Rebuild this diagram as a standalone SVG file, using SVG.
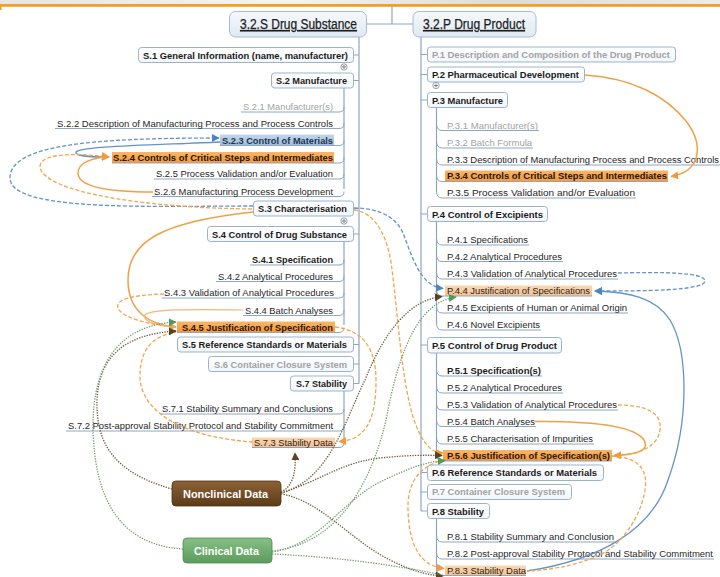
<svg xmlns="http://www.w3.org/2000/svg" width="720" height="577" viewBox="0 0 720 577">
  <defs>
    <linearGradient id="gTop" x1="0" y1="0" x2="1" y2="0">
      <stop offset="0" stop-color="#e6e6e6"/>
      <stop offset="0.4" stop-color="#f4f4f4"/>
      <stop offset="0.7" stop-color="#dcdcdc"/>
      <stop offset="1" stop-color="#ececec"/>
    </linearGradient>
    <linearGradient id="gRoot" x1="0" y1="0" x2="0" y2="1">
      <stop offset="0" stop-color="#f6f9fc"/>
      <stop offset="1" stop-color="#dfe8f2"/>
    </linearGradient>
    <linearGradient id="gBox" x1="0" y1="0" x2="0" y2="1">
      <stop offset="0" stop-color="#ffffff"/>
      <stop offset="1" stop-color="#f2f6fa"/>
    </linearGradient>
    <linearGradient id="gBlueHi" x1="0" y1="0" x2="0" y2="1">
      <stop offset="0" stop-color="#c4d7ea"/>
      <stop offset="1" stop-color="#9dbbd9"/>
    </linearGradient>
    <linearGradient id="gOrHi" x1="0" y1="0" x2="0" y2="1">
      <stop offset="0" stop-color="#f9b56a"/>
      <stop offset="1" stop-color="#f39a3c"/>
    </linearGradient>
    <linearGradient id="gPeach" x1="0" y1="0" x2="0" y2="1">
      <stop offset="0" stop-color="#fbd7b2"/>
      <stop offset="1" stop-color="#f8c08a"/>
    </linearGradient>
    <linearGradient id="gBrown" x1="0" y1="0" x2="0" y2="1">
      <stop offset="0" stop-color="#8c6236"/>
      <stop offset="1" stop-color="#5c3b19"/>
    </linearGradient>
    <linearGradient id="gGreen" x1="0" y1="0" x2="0" y2="1">
      <stop offset="0" stop-color="#86bf86"/>
      <stop offset="1" stop-color="#5c9c5c"/>
    </linearGradient>
    <marker id="aO" viewBox="0 0 10 10" refX="9" refY="5" markerWidth="8" markerHeight="8" markerUnits="userSpaceOnUse" orient="auto">
      <path d="M0,0 L10,5 L0,10 z" fill="#f29a3a"/>
    </marker>
    <marker id="aB" viewBox="0 0 10 10" refX="9" refY="5" markerWidth="8" markerHeight="8" markerUnits="userSpaceOnUse" orient="auto">
      <path d="M0,0 L10,5 L0,10 z" fill="#4f86c0"/>
    </marker>
    <marker id="aBr" viewBox="0 0 10 10" refX="9" refY="5" markerWidth="8" markerHeight="8" markerUnits="userSpaceOnUse" orient="auto">
      <path d="M0,0 L10,5 L0,10 z" fill="#5a4322"/>
    </marker>
    <marker id="aG" viewBox="0 0 10 10" refX="9" refY="5" markerWidth="8" markerHeight="8" markerUnits="userSpaceOnUse" orient="auto">
      <path d="M0,0 L10,5 L0,10 z" fill="#4f9a5c"/>
    </marker>
  </defs>
  <style>
    .root { fill: url(#gRoot); stroke: #a6bcd3; stroke-width: 1; }
    .rt { font-family: "Liberation Sans", Arial, sans-serif; font-size: 14px; fill: #1e1e1e; stroke: #1e1e1e; stroke-width: 0.25; text-decoration: underline; }
    .box { fill: url(#gBox); stroke: #9cb3ca; stroke-width: 1; }
    .bt { font-family: "Liberation Sans", Arial, sans-serif; font-size: 9.5px; font-weight: bold; fill: #1b1b1b; }
    .it { font-family: "Liberation Sans", Arial, sans-serif; font-size: 9.2px; fill: #262626; }
    .gray { fill: #a2a2a2; }
    .navy { fill: #1d3557; }
    .dk { fill: #2a1500; }
    .tree { fill: none; stroke: #8ea6bf; stroke-width: 1.2; }
    .ul { fill: none; stroke: #8ea6bf; stroke-width: 1; }
    .hiB { fill: url(#gBlueHi); }
    .hiO { fill: url(#gOrHi); }
    .hiP { fill: url(#gPeach); }
    .plus { fill: #ffffff; stroke: #7d8b99; stroke-width: 0.8; }
    .oS { fill: none; stroke: #f0a044; stroke-width: 1.5; }
    .oS2 { fill: none; stroke: #f3b679; stroke-width: 1.2; }
    .oD { fill: none; stroke: #f0a650; stroke-width: 1.3; stroke-dasharray: 4 2; }
    .bS { fill: none; stroke: #6494c6; stroke-width: 1.3; }
    .bD { fill: none; stroke: #6494c6; stroke-width: 1.3; stroke-dasharray: 4 2; }
    .brD { fill: none; stroke: #6a5536; stroke-width: 1.3; stroke-dasharray: 1.3 1.3; }
    .gD { fill: none; stroke: #6e9c70; stroke-width: 1.3; stroke-dasharray: 1.3 1.3; }
    .cat { font-family: "Liberation Sans", Arial, sans-serif; font-size: 10.5px; font-weight: bold; fill: #ffffff; }
  </style>

  <rect width="720" height="577" fill="#ffffff"/>
  <!-- header band -->
  <rect x="0" y="0" width="720" height="4.5" fill="url(#gTop)"/>
  <rect x="0" y="4" width="720" height="2.8" fill="#f2a024"/>
  <rect x="0" y="6" width="1.5" height="4" fill="#f2a024"/>

  <!-- tree structure lines -->
  <g id="tree-lines">
    <path class="tree" d="M367,24 H413 M392,6 V24"/>
    <path class="tree" d="M359,37 V383.5 M353,55 H359 M353,80.5 H359 M353,208.5 H359 M353,234 H359 M353,344.5 H359 M353,364 H359 M353,383.5 H359"/>
    <path class="tree" d="M344,88 V189 M344,241.5 V325 M344,391 V440"/>
    <path class="tree" d="M421,37 V511 M421,54.5 H427 M421,74.5 H427 M421,100 H427 M421,214 H427 M421,345 H427 M421,472.5 H427 M421,492 H427 M421,511 H427"/>
    <path class="tree" d="M436.5,107.5 V192 M436.5,221.5 V324 M436.5,353 V454 M436.5,518.5 V569"/>
  </g>

  <!-- root nodes -->
  <g id="drug-substance">
    <rect class="root" x="229.5" y="11.5" width="137" height="25.5" rx="6"/>
    <text class="rt" x="240" y="29" textLength="117" lengthAdjust="spacingAndGlyphs">3.2.S Drug Substance</text>
  </g>
  <g id="drug-product">
    <rect class="root" x="413" y="11.5" width="123" height="25.5" rx="6"/>
    <text class="rt" x="423" y="29" textLength="102" lengthAdjust="spacingAndGlyphs">3.2.P Drug Product</text>
  </g>

  <!-- Drug Substance sections -->
  <g id="s1"><rect class="box" x="138.5" y="47.5" width="215" height="15" rx="3"/><text class="bt" x="143" y="58.5" textLength="205" lengthAdjust="spacingAndGlyphs">S.1 General Information (name, manufacturer)</text></g>
  <g id="s1-plus"><circle class="plus" cx="344" cy="67" r="3.2"/><path d="M342,67 H346 M344,65 V69" stroke="#555" stroke-width="0.7"/></g>
  <g id="s2"><rect class="box" x="271.5" y="73" width="82" height="15" rx="3"/><text class="bt" x="276" y="84" textLength="71" lengthAdjust="spacingAndGlyphs">S.2 Manufacture</text></g>

  <g id="s21"><path class="ul" d="M241,112 H339 Q344,112 344,107"/><text class="it gray" x="243" y="110" textLength="90" lengthAdjust="spacingAndGlyphs">S.2.1 Manufacturer(s)</text></g>
  <g id="s22"><path class="ul" d="M55,128.5 H339 Q344,128.5 344,123.5"/><text class="it" x="57" y="126.5" textLength="276" lengthAdjust="spacingAndGlyphs">S.2.2  Description of Manufacturing Process and Process Controls</text></g>
  <g id="s23"><rect class="hiB" x="220" y="134.5" width="114" height="11"/><path class="ul" d="M220,145.5 H339 Q344,145.5 344,140.5"/><text class="bt navy" x="222" y="143.5" textLength="111" lengthAdjust="spacingAndGlyphs">S.2.3 Control of Materials</text></g>
  <g id="s24"><rect class="hiO" x="112" y="152" width="222" height="11"/><path class="ul" d="M112,163 H339 Q344,163 344,158"/><text class="bt dk" x="113" y="161" textLength="220" lengthAdjust="spacingAndGlyphs">S.2.4 Controls of Critical Steps and Intermediates</text></g>
  <g id="s25"><path class="ul" d="M154,179 H339 Q344,179 344,174"/><text class="it" x="156" y="177" textLength="177" lengthAdjust="spacingAndGlyphs">S.2.5 Process Validation and/or Evaluation</text></g>
  <g id="s26"><path class="ul" d="M152,196.5 H339 Q344,196.5 344,191.5"/><text class="it" x="154" y="194.5" textLength="179" lengthAdjust="spacingAndGlyphs">S.2.6 Manufacturing Process Development</text></g>

  <g id="s3"><rect class="box" x="253.5" y="201" width="100" height="15" rx="3"/><text class="bt" x="258" y="212" textLength="89" lengthAdjust="spacingAndGlyphs">S.3 Characterisation</text></g>
  <g id="s3-plus"><circle class="plus" cx="344" cy="221" r="3.2"/><path d="M342,221 H346 M344,219 V223" stroke="#555" stroke-width="0.7"/></g>
  <g id="s4"><rect class="box" x="207.5" y="226.5" width="146" height="15" rx="3"/><text class="bt" x="212" y="237.5" textLength="135" lengthAdjust="spacingAndGlyphs">S.4 Control of Drug Substance</text></g>

  <g id="s41"><path class="ul" d="M250,265 H339 Q344,265 344,260"/><text class="bt" x="252" y="263" textLength="81" lengthAdjust="spacingAndGlyphs">S.4.1  Specification</text></g>
  <g id="s42"><path class="ul" d="M216,281.5 H339 Q344,281.5 344,276.5"/><text class="it" x="218" y="279.5" textLength="115" lengthAdjust="spacingAndGlyphs">S.4.2 Analytical Procedures</text></g>
  <g id="s43"><path class="ul" d="M162,298 H339 Q344,298 344,293"/><text class="it" x="164" y="296" textLength="170" lengthAdjust="spacingAndGlyphs">S.4.3 Validation of Analytical Procedures</text></g>
  <g id="s44"><path class="ul" d="M243,315.5 H339 Q344,315.5 344,310.5"/><text class="it" x="245" y="313.5" textLength="88" lengthAdjust="spacingAndGlyphs">S.4.4 Batch Analyses</text></g>
  <g id="s45"><rect class="hiO" x="177" y="321.5" width="158" height="11"/><path class="ul" d="M177,332.5 H339 Q344,332.5 344,327.5"/><text class="bt dk" x="182" y="330.5" textLength="151" lengthAdjust="spacingAndGlyphs">S.4.5 Justification of Specification</text></g>

  <g id="s5"><rect class="box" x="177.5" y="337" width="176" height="15" rx="3"/><text class="bt" x="182" y="348" textLength="165" lengthAdjust="spacingAndGlyphs">S.5 Reference Standards or Materials</text></g>
  <g id="s6"><rect class="box" x="208.5" y="356.5" width="145" height="15" rx="3"/><text class="bt gray" x="214" y="367.5" textLength="133" lengthAdjust="spacingAndGlyphs">S.6 Container Closure System</text></g>
  <g id="s7"><rect class="box" x="290.5" y="376" width="63" height="15" rx="3"/><text class="bt" x="296" y="387" textLength="51" lengthAdjust="spacingAndGlyphs">S.7 Stability</text></g>

  <g id="s71"><path class="ul" d="M160,414 H339 Q344,414 344,409"/><text class="it" x="162" y="412" textLength="171" lengthAdjust="spacingAndGlyphs">S.7.1 Stability Summary and Conclusions</text></g>
  <g id="s72"><path class="ul" d="M66,431 H339 Q344,431 344,426"/><text class="it" x="68" y="429" textLength="265" lengthAdjust="spacingAndGlyphs">S.7.2 Post-approval Stability Protocol and Stability Commitment</text></g>
  <g id="s73"><rect class="hiP" x="252" y="437.5" width="83" height="10"/><path class="ul" d="M252,447.5 H339 Q344,447.5 344,442.5"/><text class="it" x="254" y="445.5" textLength="79" lengthAdjust="spacingAndGlyphs">S.7.3 Stability Data</text></g>

  <!-- Drug Product sections -->
  <g id="p1"><rect class="box" x="427.5" y="47" width="248" height="15" rx="3"/><text class="bt gray" x="432" y="58" textLength="238" lengthAdjust="spacingAndGlyphs">P.1 Description and Composition of the Drug Product</text></g>
  <g id="p2"><rect class="box" x="427.5" y="67" width="157" height="15" rx="3"/><text class="bt" x="432" y="77.5" textLength="147" lengthAdjust="spacingAndGlyphs">P.2 Pharmaceutical Development</text></g>
  <g id="p2-plus"><circle class="plus" cx="436" cy="85.5" r="3.2"/><path d="M434,85.5 H438 M436,83.5 V87.5" stroke="#555" stroke-width="0.7"/></g>
  <g id="p3"><rect class="box" x="427.5" y="92.5" width="80" height="15" rx="3"/><text class="bt" x="432" y="103.5" textLength="71" lengthAdjust="spacingAndGlyphs">P.3 Manufacture</text></g>

  <g id="p31"><path class="ul" d="M436.5,123.5 Q436.5,130.5 442,130.5 H539"/><text class="it gray" x="447" y="128.5" textLength="91" lengthAdjust="spacingAndGlyphs">P.3.1 Manufacturer(s)</text></g>
  <g id="p32"><path class="ul" d="M436.5,141 Q436.5,148 442,148 H533"/><text class="it gray" x="447" y="146" textLength="85" lengthAdjust="spacingAndGlyphs">P.3.2 Batch Formula</text></g>
  <g id="p33"><path class="ul" d="M436.5,158 Q436.5,165 442,165 H720"/><text class="it" x="447" y="163" textLength="272" lengthAdjust="spacingAndGlyphs">P.3.3 Description of Manufacturing Process and Process Controls</text></g>
  <g id="p34"><rect class="hiO" x="445" y="170.5" width="223" height="11"/><path class="ul" d="M436.5,175 Q436.5,181.5 442,181.5 H668"/><text class="bt dk" x="447" y="179" textLength="220" lengthAdjust="spacingAndGlyphs">P.3.4 Controls of Critical Steps and Intermediates</text></g>
  <g id="p35"><path class="ul" d="M436.5,191 Q436.5,198 442,198 H636"/><text class="it" x="447" y="196" textLength="188" lengthAdjust="spacingAndGlyphs">P.3.5 Process Validation and/or Evaluation</text></g>

  <g id="p4"><rect class="box" x="427.5" y="206.5" width="120" height="15" rx="3"/><text class="bt" x="432" y="218" textLength="111" lengthAdjust="spacingAndGlyphs">P.4 Control of Excipients</text></g>
  <g id="p41"><path class="ul" d="M436.5,238 Q436.5,245 442,245 H529"/><text class="it" x="447" y="243" textLength="81" lengthAdjust="spacingAndGlyphs">P.4.1 Specifications</text></g>
  <g id="p42"><path class="ul" d="M436.5,254.5 Q436.5,261.5 442,261.5 H563"/><text class="it" x="447" y="259.5" textLength="115" lengthAdjust="spacingAndGlyphs">P.4.2 Analytical Procedures</text></g>
  <g id="p43"><path class="ul" d="M436.5,272 Q436.5,279 442,279 H618"/><text class="it" x="447" y="277" textLength="170" lengthAdjust="spacingAndGlyphs">P.4.3 Validation of Analytical Procedures</text></g>
  <g id="p44"><rect class="hiP" x="445" y="285.5" width="147" height="10.5"/><path class="ul" d="M436.5,289 Q436.5,296 442,296 H592"/><text class="it" x="447" y="294" textLength="143" lengthAdjust="spacingAndGlyphs">P.4.4 Justification of Specifications</text></g>
  <g id="p45"><path class="ul" d="M436.5,306 Q436.5,313 442,313 H628"/><text class="it" x="447" y="311" textLength="180" lengthAdjust="spacingAndGlyphs">P.4.5 Excipients of Human or Animal Origin</text></g>
  <g id="p46"><path class="ul" d="M436.5,323 Q436.5,330 442,330 H541"/><text class="it" x="447" y="328" textLength="93" lengthAdjust="spacingAndGlyphs">P.4.6 Novel Excipients</text></g>

  <g id="p5"><rect class="box" x="427.5" y="337.5" width="134" height="15.5" rx="3"/><text class="bt" x="432" y="348.5" textLength="125" lengthAdjust="spacingAndGlyphs">P.5 Control of Drug Product</text></g>
  <g id="p51"><path class="ul" d="M436.5,369 Q436.5,376 442,376 H542"/><text class="bt" x="447" y="374" textLength="94" lengthAdjust="spacingAndGlyphs">P.5.1  Specification(s)</text></g>
  <g id="p52"><path class="ul" d="M436.5,386 Q436.5,393 442,393 H563"/><text class="it" x="447" y="391" textLength="115" lengthAdjust="spacingAndGlyphs">P.5.2 Analytical Procedures</text></g>
  <g id="p53"><path class="ul" d="M436.5,403 Q436.5,410 442,410 H618"/><text class="it" x="447" y="408" textLength="170" lengthAdjust="spacingAndGlyphs">P.5.3 Validation of Analytical Procedures</text></g>
  <g id="p54"><path class="ul" d="M436.5,419.5 Q436.5,426.5 442,426.5 H536"/><text class="it" x="447" y="424.5" textLength="88" lengthAdjust="spacingAndGlyphs">P.5.4 Batch Analyses</text></g>
  <g id="p55"><path class="ul" d="M436.5,437 Q436.5,444 442,444 H594"/><text class="it" x="447" y="442" textLength="146" lengthAdjust="spacingAndGlyphs">P.5.5 Characterisation of Impurities</text></g>
  <g id="p56"><rect class="hiO" x="443" y="450" width="169" height="11"/><path class="ul" d="M436.5,454 Q436.5,461 442,461 H612"/><text class="bt dk" x="447" y="458.5" textLength="163" lengthAdjust="spacingAndGlyphs">P.5.6 Justification of Specification(s)</text></g>

  <g id="p6"><rect class="box" x="427.5" y="465" width="176" height="15.5" rx="3"/><text class="bt" x="432" y="476" textLength="165" lengthAdjust="spacingAndGlyphs">P.6 Reference Standards or Materials</text></g>
  <g id="p7"><rect class="box" x="427.5" y="484.5" width="144" height="15" rx="3"/><text class="bt gray" x="432" y="495" textLength="133" lengthAdjust="spacingAndGlyphs">P.7 Container Closure System</text></g>
  <g id="p8"><rect class="box" x="427.5" y="503.5" width="62" height="15" rx="3"/><text class="bt" x="432" y="514.5" textLength="52" lengthAdjust="spacingAndGlyphs">P.8  Stability</text></g>
  <g id="p81"><path class="ul" d="M436.5,535 Q436.5,542 442,542 H615"/><text class="it" x="447" y="540" textLength="167" lengthAdjust="spacingAndGlyphs">P.8.1 Stability Summary and Conclusion</text></g>
  <g id="p82"><path class="ul" d="M436.5,552 Q436.5,559 442,559 H714"/><text class="it" x="447" y="557" textLength="266" lengthAdjust="spacingAndGlyphs">P.8.2 Post-approval Stability Protocol and Stability Commitment</text></g>
  <g id="p83"><rect class="hiP" x="445" y="565.5" width="81" height="10"/><path class="ul" d="M436.5,569 Q436.5,575.5 442,575.5 H526"/><text class="it" x="447" y="573.5" textLength="79" lengthAdjust="spacingAndGlyphs">P.8.3 Stability Data</text></g>

  <!-- data sources -->
  <g id="nonclinical-data">
    <rect x="172" y="481" width="109" height="25" rx="4" fill="url(#gBrown)" stroke="#4d3213" stroke-width="0.8"/>
    <text class="cat" x="183" y="498" textLength="85" lengthAdjust="spacingAndGlyphs">Nonclinical Data</text>
  </g>
  <g id="clinical-data">
    <rect x="183" y="538" width="89" height="25" rx="4" fill="url(#gGreen)" stroke="#4f8a50" stroke-width="0.8"/>
    <text class="cat" x="194" y="554.5" textLength="65" lengthAdjust="spacingAndGlyphs">Clinical Data</text>
  </g>

  <!-- cross references -->
  <g id="connectors">
    <!-- Drug Substance internal -->
    <path class="bD" d="M253,206 C150,206 10,212 10,178 C10,145 90,138 219,138" marker-end="url(#aB)"/>
    <path class="bS" d="M220,142 C160,145 72,146 76,153 C79,157 95,157 109,157"/>
    <path class="oD" d="M252,209 C160,208 60,196 42,172 C32,156 62,151 109,157" marker-end="url(#aO)"/>
    <path class="oS" d="M153,192 C105,192 78,186 78,173 C78,162 95,157 109,157" marker-end="url(#aO)"/>
    <path class="oS" d="M253,212 C160,222 128,242 128,280 C128,312 150,325 176,327" marker-end="url(#aO)"/>
    <path class="oS2" d="M243,310 C190,309 150,309 145,315 C142,322 160,326 176,327"/>
    <path class="oD" d="M164,294 C130,295 115,300 118,308 C122,318 150,325 176,327"/>
    <path class="oD" d="M335,327 C360,330 376,345 376,380 C376,420 366,440 339,441.5" marker-end="url(#aO)"/>
    <path class="oD" d="M253,442 C180,437 140,410 140,376 C140,350 152,336 176,332"/>

    <!-- Drug Substance to Drug Product -->
    <path class="bD" d="M354,208 C376,208 395,215 403,233 C412,256 420,286 443,288.5" marker-end="url(#aB)"/>
    <path class="oD" d="M354,210 C373,212 386,232 391,262 C398,312 401,380 414,420 C423,445 432,453 443,453" marker-end="url(#aO)"/>

    <!-- Drug Product internal -->
    <path class="oS" d="M585,75 C632,78 666,96 686,121 C705,146 700,172 671,176.5" marker-end="url(#aO)"/>
    <path class="bD" d="M618,273 C660,272 705,272 705,281 C705,291 640,291 595,291" marker-end="url(#aB)"/>
    <path class="bS" d="M527,571 C600,560 652,530 668,480 C690,420 688,350 670,320 C656,298 630,292 595,291" marker-end="url(#aB)"/>
    <path class="oD" d="M618,405 C650,405 662,415 660,430 C658,446 640,455 614,455.5" marker-end="url(#aO)"/>
    <path class="oS" d="M535,421.5 C590,421 634,425 644,440 C650,451 636,455 614,455.5" marker-end="url(#aO)"/>
    <path class="oD" d="M612,456 C640,458 648,470 645,490 C640,520 620,545 600,555 C570,568 545,570 527,571"/>
    <path class="oD" d="M445,460 C420,465 407,482 408,510 C409,545 420,566 444,568.5" marker-end="url(#aO)"/>

    <!-- Nonclinical data -->
    <path class="brD" d="M281,492 C294,486 296,470 295,453" marker-end="url(#aBr)"/>
    <path class="brD" d="M172,489 C112,472 96,442 97,400 C99,352 130,334 176,331" marker-end="url(#aBr)"/>
    <path class="brD" d="M281,493 C330,480 345,420 365,380 C385,330 410,300 442,296.5" marker-end="url(#aBr)"/>
    <path class="brD" d="M281,493 C320,481 342,462 380,458 C410,455 425,455 442,455.5" marker-end="url(#aBr)"/>
    <path class="brD" d="M281,494 C320,500 350,540 390,560 C410,570 425,575 443,576" marker-end="url(#aBr)"/>

    <!-- Clinical data -->
    <path class="gD" d="M183,549 C120,545 95,500 93,430 C92,360 122,325 176,322" marker-end="url(#aG)"/>
    <path class="gD" d="M272,551 C340,544 372,480 386,420 C400,345 420,302 456,297" marker-end="url(#aG)"/>
    <path class="gD" d="M272,552 C320,545 342,500 382,481 C412,467 425,462 445,460.5" marker-end="url(#aG)"/>
    <path class="gD" d="M272,554 C340,557 400,566 443,575"/>
  </g>
</svg>
